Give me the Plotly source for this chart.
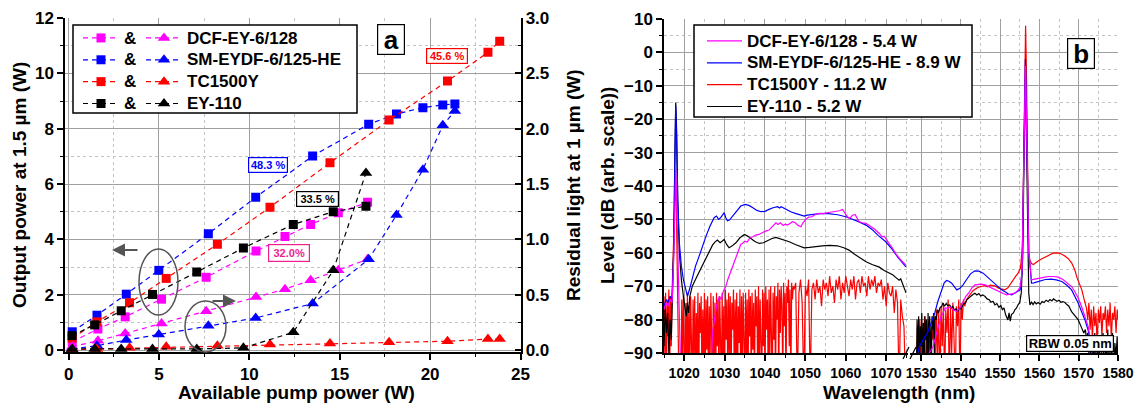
import plotly.graph_objects as go

W, H = 1141, 408
def X(px): return px / W
def Y(py): return 1 - py / H
FONT = "Arial, 'Liberation Sans', sans-serif"
MAG, BLU, RED, BLK = "#FF00FF", "#0000FF", "#FF0000", "#000000"

# ---------------- panel a data ----------------
fibers = ["DCF-EY-6/128", "SM-EYDF-6/125-HE", "TC1500Y", "EY-110"]

pump_dcf = [0.2, 1.62, 3.13, 5.14, 7.61, 10.37, 11.97, 13.39, 14.92, 16.54]
out_dcf = [0.3, 0.76, 1.2, 1.84, 2.63, 3.58, 4.1, 4.54, 4.96, 5.34]
res_dcf = [0.03, 0.084, 0.15, 0.24, 0.35, 0.48, 0.55, 0.63, 0.72, 0.82]

pump_sm = [0.2, 1.57, 3.19, 4.99, 7.73, 10.35, 13.5, 16.6, 18.14, 19.6, 20.7, 21.37]
out_sm = [0.66, 1.26, 2.02, 2.88, 4.2, 5.52, 7.01, 8.16, 8.53, 8.76, 8.86, 8.89]
res_sm = [0.01, 0.04, 0.09, 0.14, 0.22, 0.29, 0.42, 0.82, 1.22, 1.63, 2.03, 2.16]

pump_tc = [0.2, 1.57, 3.37, 5.4, 8.23, 11.14, 14.46, 17.73, 20.96, 23.2, 23.85]
out_tc = [0.43, 1.02, 1.71, 2.59, 3.82, 5.16, 6.77, 8.31, 9.72, 10.76, 11.16]
res_tc = [0.005, 0.01, 0.02, 0.03, 0.04, 0.05, 0.06, 0.07, 0.08, 0.1, 0.1]

pump_ey = [0.19, 1.44, 2.91, 4.64, 7.09, 9.67, 12.43, 14.64, 16.45]
out_ey = [0.52, 0.91, 1.42, 2.01, 2.82, 3.69, 4.54, 5.0, 5.2]
res_ey = [0.01, 0.01, 0.01, 0.01, 0.01, 0.02, 0.16, 0.72, 1.6]

eff_labels = ["48.3 %", "45.6 %", "33.5 %", "32.0%"]

# ---------------- panel b data ----------------
spec_names = ["DCF-EY-6/128 - 5.4 W", "SM-EYDF-6/125-HE - 8.9 W", "TC1500Y - 11.2 W", "EY-110 - 5.2 W"]

# segment 1 (1015-1075 nm)
b1_wl = [1015.0, 1015.5, 1016.0, 1016.5, 1017.0, 1017.4, 1017.7, 1017.9, 1018.1, 1018.4, 1018.8, 1019.3, 1019.8, 1020.3, 1020.8, 1021.3, 1022.0, 1022.8, 1023.7, 1024.5, 1025.4, 1026.4, 1027.4, 1028.0, 1028.5, 1029.0, 1029.5, 1029.9, 1030.3, 1030.7, 1031.2, 1032.0, 1033.0, 1034.0, 1035.1, 1036.0, 1037.0, 1038.0, 1039.0, 1040.0, 1041.0, 1042.0, 1043.1, 1043.6, 1044.0, 1044.75, 1045.5, 1046.5, 1047.5, 1048.5, 1049.7, 1050.5, 1051.5, 1052.5, 1053.5, 1055.1, 1056.5, 1058.0, 1060.0, 1061.5, 1063.0, 1065.0, 1066.5, 1068.0, 1069.9, 1071.5, 1073.0, 1074.9]
b1_db = [-76, -74, -75, -73, -74, -60, -32, -16, -24, -44, -57, -64, -68, -71, -73, -71, -67.5, -64, -61, -58, -55, -52, -49.5, -49, -50, -49.5, -48.5, -48, -49.5, -50.4, -50.2, -49, -47.5, -46, -45.5, -45.8, -46.5, -47.3, -47.7, -47.6, -47, -46.5, -46.2, -46.6, -46.2, -46.7, -47.2, -47.8, -48.2, -48.6, -49, -48.7, -48.5, -48.4, -48.3, -48.2, -48.3, -48.6, -49.2, -49.8, -50.6, -51.7, -53, -54.8, -56.7, -59, -61.5, -64.2]

m1_wl = [1015.0, 1015.5, 1016.0, 1016.5, 1017.0, 1017.4, 1017.7, 1017.9, 1018.1, 1018.4, 1018.7, 1019.0, 1019.2, 1026.5, 1027.0, 1027.5, 1028.0, 1028.7, 1029.2, 1029.7, 1030.3, 1030.8, 1031.4, 1032.0, 1032.4, 1033.0, 1033.6, 1034.0, 1034.4, 1035.0, 1035.6, 1036.3, 1037.0, 1037.7, 1038.5, 1039.3, 1040.0, 1041.0, 1041.6, 1042.2, 1042.7, 1043.2, 1043.8, 1044.5, 1045.0, 1045.6, 1046.2, 1046.8, 1047.5, 1048.2, 1048.9, 1049.4, 1050.1, 1050.8, 1051.6, 1052.4, 1053.4, 1054.4, 1055.4, 1056.4, 1057.4, 1058.4, 1059.2, 1059.8, 1060.4, 1061.0, 1061.6, 1062.3, 1062.8, 1063.3, 1064.0, 1065.0, 1066.0, 1067.0, 1068.3, 1069.0, 1069.5, 1070.0, 1070.7, 1071.5, 1072.5, 1073.5, 1074.9]
m1_db = [-77, -75, -76, -74, -75, -62, -45, -35, -42, -60, -75, -88, -100, -100, -84, -80, -76, -73, -74, -71.5, -70, -68, -66, -64, -63, -61, -59, -57.5, -57.2, -56.5, -56.8, -55.5, -55.2, -54.7, -54.5, -54, -53.6, -53.2, -52.5, -51.6, -51, -51.5, -51, -51.8, -51.4, -51.7, -51.1, -50.7, -51, -51.8, -52.2, -51, -50, -49.3, -49.2, -48.6, -48.2, -48.3, -48.0, -47.8, -47.6, -47.4, -47, -48, -49.2, -49.7, -48.8, -48.5, -49.5, -50.7, -51, -51.2, -52, -52.8, -54.2, -55.2, -55, -56, -57.2, -58.5, -60.5, -62, -63.7]

k1_wl = [1015.0, 1015.3, 1015.6, 1015.9, 1016.2, 1016.5, 1016.8, 1017.1, 1017.4, 1017.7, 1017.9, 1018.1, 1018.4, 1018.8, 1019.3, 1019.8, 1020.2, 1020.5, 1020.8, 1021.1, 1021.4, 1022.0, 1023.0, 1024.0, 1024.5, 1025.5, 1026.3, 1027.0, 1027.6, 1028.2, 1028.9, 1029.4, 1029.9, 1030.5, 1031.1, 1031.8, 1032.8, 1033.8, 1034.9, 1035.7, 1036.5, 1037.5, 1038.6, 1039.6, 1040.6, 1041.6, 1042.7, 1043.5, 1044.5, 1046.0, 1047.5, 1049.0, 1049.7, 1051.0, 1052.5, 1054.2, 1056.0, 1057.9, 1059.5, 1060.8, 1062.0, 1063.5, 1065.0, 1066.5, 1068.3, 1069.5, 1070.5, 1071.6, 1072.5, 1073.2, 1073.6, 1074.0, 1074.4, 1074.7, 1074.9]
k1_db = [-88, -76, -84, -78, -90, -80, -86, -75, -58, -30, -15, -22, -45, -60, -68, -73, -76, -79, -75, -78, -73, -70, -67.5, -65, -64, -61.5, -59.5, -57.7, -56.8, -56.2, -57, -56.6, -56, -57.5, -58.5, -58, -57, -55.5, -54.5, -55, -55.7, -56.6, -57.2, -57, -56.4, -55.8, -55.4, -55.7, -56.1, -56.7, -57.5, -58.3, -58.5, -58.4, -58.1, -57.9, -57.8, -57.9, -58.5, -59.2, -60.3, -61.5, -62.7, -63.5, -64.3, -65.3, -66, -66.6, -67.5, -68.2, -67.8, -69.1, -70.2, -71, -72]

r1_wl = [1015.0, 1015.2, 1015.4, 1015.6, 1015.8, 1016.0, 1016.2, 1016.4, 1016.6, 1016.8, 1017.0, 1017.3, 1017.6, 1017.85, 1018.1, 1018.4, 1018.7,
         1019.2, 1019.4, 1019.6, 1019.8, 1020.0, 1020.2, 1020.4, 1020.6, 1020.8, 1021.0,
         1021.2, 1021.4, 1021.6, 1021.8, 1022.0, 1022.2, 1022.4, 1022.6, 1022.8, 1023.0,
         1023.2, 1023.4, 1023.6, 1023.8, 1024.0, 1024.2, 1024.4, 1024.6, 1024.8, 1025.0,
         1025.2, 1025.4, 1025.6, 1025.8, 1026.0, 1026.2, 1026.4, 1026.6, 1026.8, 1027.0,
         1027.2, 1027.4, 1027.6, 1027.8, 1028.0, 1028.2, 1028.4, 1028.6, 1028.8, 1029.0,
         1029.2, 1029.4, 1029.6, 1029.8, 1030.0, 1030.2, 1030.4, 1030.6, 1030.8, 1031.0,
         1031.2, 1031.4, 1031.6, 1031.8, 1032.0, 1032.2, 1032.4, 1032.6, 1032.8, 1033.0,
         1033.2, 1033.4, 1033.6, 1033.8, 1034.0, 1034.2, 1034.4, 1034.6, 1034.8, 1035.0,
         1035.2, 1035.4, 1035.6, 1035.8, 1036.0, 1036.2, 1036.4, 1036.6, 1036.8, 1037.0,
         1037.2, 1037.4, 1037.6, 1037.8, 1038.0, 1038.2, 1038.4, 1038.6, 1038.8, 1039.0,
         1039.2, 1039.4, 1039.6, 1039.8, 1040.0, 1040.2, 1040.4, 1040.6, 1040.8, 1041.0,
         1041.2, 1041.4, 1041.6, 1041.8, 1042.0, 1042.2, 1042.4, 1042.6, 1042.8, 1043.0,
         1043.2, 1043.4, 1043.6, 1043.8, 1044.0, 1044.2, 1044.4, 1044.6, 1044.8, 1045.0,
         1045.2, 1045.4, 1045.6, 1045.8, 1046.0, 1046.2, 1046.4, 1046.6, 1046.8, 1047.0,
         1047.2, 1047.6, 1048.0, 1048.4, 1048.8, 1049.2, 1049.6, 1050.0, 1050.4, 1050.8,
         1051.2, 1051.6, 1052.0, 1052.4, 1052.8, 1053.2, 1053.6, 1054.0, 1054.4, 1054.8,
         1055.2, 1055.6, 1056.0, 1056.4, 1056.8, 1057.2, 1057.6, 1058.0, 1058.4, 1058.8,
         1059.2, 1059.6, 1060.0, 1060.4, 1060.8, 1061.2, 1061.6, 1062.0, 1062.4, 1062.8,
         1063.2, 1063.6, 1064.0, 1064.4, 1064.8, 1065.2, 1065.6, 1066.0, 1066.4, 1066.8,
         1067.2, 1067.6, 1068.0, 1068.4, 1068.8, 1069.2, 1069.6, 1070.0, 1070.4, 1070.8,
         1071.2, 1071.6, 1072.0, 1072.4, 1072.8, 1073.2, 1073.6, 1074.0, 1074.4, 1074.8]
r1_db = [-73, -90, -72, -100, -74, -85, -71, -100, -73, -88, -72, -60, -45, -37, -50, -75, -100,
         -100, -74, -95, -73, -88, -100, -75, -92, -72, -100,
         -76, -98, -73, -86, -100, -74, -90, -73, -100, -78,
         -92, -72, -100, -75, -84, -73, -100, -77, -96, -72,
         -100, -74, -89, -73, -100, -76, -93, -72, -85, -100,
         -73, -97, -75, -100, -72, -88, -74, -100, -73, -82,
         -100, -72, -94, -76, -100, -71, -86, -74, -100, -72,
         -90, -73, -100, -75, -83, -71, -100, -74, -92, -72,
         -100, -76, -87, -71, -100, -73, -95, -72, -81, -100,
         -72, -91, -74, -100, -71, -85, -73, -100, -72, -89,
         -75, -100, -71, -82, -73, -100, -70, -94, -74, -86,
         -100, -71, -88, -72, -100, -70, -83, -74, -100, -71,
         -92, -70, -78, -100, -72, -86, -70, -100, -73, -80,
         -69, -100, -71, -84, -70, -76, -100, -69, -82, -72,
         -100, -70, -75, -68, -88, -71, -100, -69, -74, -70,
         -71, -69, -100, -72, -68, -75, -100, -70, -73, -68,
         -100, -71, -69, -74, -68, -72, -70, -76, -68, -71,
         -69, -73, -67, -72, -70, -75, -68, -71, -67, -74,
         -69, -72, -67, -70, -73, -68, -71, -67, -74, -69,
         -68, -72, -67, -70, -69, -73, -67, -71, -68, -70,
         -67, -72, -69, -70, -68, -74, -70, -76, -69, -72,
         -73, -70, -78, -71, -75, -100, -74, -79, -82, -100]

# segment 2 (1527-1580 nm)
b2_wl = [1528.7, 1529.5, 1530.5, 1531.5, 1532.5, 1533.4, 1534.2, 1535.1, 1535.8, 1536.4, 1537.0, 1537.7, 1538.4, 1539.0, 1539.8, 1540.6, 1541.5, 1542.5, 1543.6, 1544.6, 1545.7, 1546.8, 1547.9, 1549.0, 1550.4, 1551.5, 1552.2, 1553.0, 1553.8, 1554.5, 1555.1, 1555.6, 1555.9, 1556.2, 1556.45, 1556.7, 1557.0, 1557.3, 1557.6, 1558.0, 1558.6, 1559.2, 1559.7, 1560.5, 1561.5, 1563.0, 1564.3, 1565.7, 1567.0, 1568.2, 1569.0, 1569.9, 1570.7, 1571.6, 1572.4, 1573.0, 1573.4]
b2_db = [-92, -88, -86, -84, -81, -78, -74.5, -71.1, -69, -68.3, -68.5, -69.1, -70.3, -71.1, -70.6, -69.6, -68, -66.3, -65.4, -65.5, -66.1, -67.3, -68.6, -69.8, -71.1, -71.8, -72.4, -72.6, -72, -71.6, -71.1, -66, -45, -15, -2, -15, -45, -60, -63.7, -69.1, -69, -68.8, -68.6, -68.3, -68, -67.9, -68.1, -68.6, -69.7, -71.1, -73, -75.1, -77.5, -80.1, -83.1, -87, -92]

m2_wl = [1528.7, 1531.0, 1533.0, 1534.2, 1535.0, 1535.5, 1536.0, 1536.6, 1537.3, 1538.0, 1539.0, 1539.8, 1540.6, 1541.3, 1542.0, 1542.8, 1543.6, 1544.4, 1545.3, 1546.2, 1547.2, 1548.1, 1549.1, 1550.0, 1550.8, 1551.7, 1552.4, 1553.1, 1553.8, 1554.6, 1555.2, 1555.6, 1555.9, 1556.2, 1556.45, 1556.7, 1557.0, 1557.3, 1557.6, 1558.0, 1558.8, 1559.6, 1560.5, 1561.4, 1562.3, 1563.5, 1564.8, 1566.0, 1567.2, 1568.2, 1569.0, 1569.9, 1570.8, 1571.6, 1572.4, 1573.0, 1573.5]
m2_db = [-95, -92, -88, -83, -79, -78.1, -76.5, -76.6, -76.2, -77, -77.6, -76.5, -74.5, -73, -72.1, -70.6, -69.6, -69.4, -69.4, -69.6, -70.2, -70.6, -71.1, -71.8, -72.2, -72.6, -72.4, -72.3, -72.1, -71.2, -70, -65, -45, -18, -4, -18, -45, -60, -63, -68.1, -67.9, -67.8, -67.5, -67.3, -67.1, -67.1, -67.3, -68, -69, -70.1, -71.6, -73.6, -76.3, -79.1, -82, -86, -92]

k2_wl = [1528.7, 1528.9, 1529.1, 1529.3, 1529.5, 1529.7, 1529.9, 1530.1, 1530.3, 1530.5, 1530.7, 1530.9, 1531.1, 1531.3, 1531.5, 1531.7, 1531.9, 1532.1, 1532.3, 1532.5, 1532.7, 1532.9, 1533.1, 1533.3, 1533.5, 1533.8, 1534.1, 1534.4,
         1534.7, 1535.1, 1535.5, 1535.9, 1536.3, 1536.7, 1537.2, 1537.6, 1538.0, 1538.4, 1538.8, 1539.3, 1539.7, 1540.1, 1540.6, 1541.1, 1541.6, 1542.1, 1542.6, 1543.1, 1543.6, 1544.1, 1544.6, 1545.1, 1545.6, 1546.2, 1546.7, 1547.2, 1547.7, 1548.2, 1548.7, 1549.2, 1549.7, 1550.2, 1550.6, 1551.0, 1551.4, 1551.7, 1552.0, 1552.3, 1552.6, 1552.9, 1553.4, 1553.8, 1554.2, 1554.6, 1555.0, 1555.4, 1555.8, 1556.1, 1556.45, 1556.7, 1557.0, 1557.3, 1557.6, 1558.0, 1558.4, 1558.8, 1559.2, 1559.7, 1560.2, 1560.7, 1561.2, 1561.7, 1562.2, 1562.7, 1563.2, 1563.6, 1564.0, 1564.5, 1565.0, 1565.5, 1566.0, 1566.5, 1567.0, 1567.5, 1568.2, 1568.8, 1569.4, 1569.9, 1570.4, 1570.9, 1571.3, 1571.7, 1572.0, 1572.3, 1572.6, 1572.9, 1573.2, 1573.5, 1573.8, 1574.1, 1574.4, 1574.7, 1575.0, 1575.3, 1575.6, 1575.9, 1576.2, 1576.5, 1576.8, 1577.1, 1577.4, 1577.7, 1578.0, 1578.3, 1578.6, 1578.9, 1579.2, 1579.5, 1579.8, 1580.0]
k2_db = [-100, -80, -92, -79, -100, -82, -88, -78, -95, -81, -100, -79, -86, -80, -100, -78, -90, -79, -84, -100, -79, -83, -78, -90, -79, -80, -77, -78,
         -76.5, -76.1, -75, -76, -75.2, -75.8, -75.6, -76.5, -76, -77.2, -76.8, -77.6, -76.5, -76.8, -75.5, -75.1, -74, -73.5, -72.8, -72.5, -72.1, -72.6, -72.2, -72.9, -72.6, -73.1, -73.8, -74, -74.8, -74.5, -75.6, -75.2, -76.3, -75.8, -77, -76.5, -78.5, -79.5, -80.1, -78, -80.5, -78.5, -78, -77, -76.5, -75.5, -75, -72, -60, -30, -8, -25, -55, -72, -75.6, -74.8, -75.5, -74.7, -75.3, -74.9, -75.4, -74.6, -74.9, -74.2, -74.6, -74, -74.4, -73.8, -74.1, -74.5, -74.2, -74.8, -74.6, -74.9, -75.5, -76, -77.6, -78.5, -79.3, -80.1, -81.5, -82.8, -84, -83, -86, -84, -90, -85, -100, -86, -92, -84, -100, -87, -95, -85, -100, -88, -84, -100, -86, -92, -83, -100, -86, -90, -84, -100, -87, -91, -85, -100]

r2_wl = [1528.7, 1529.0, 1529.3, 1529.6, 1529.9, 1530.2, 1530.5, 1530.8, 1531.1, 1531.4, 1531.7, 1532.0, 1532.3, 1532.6, 1532.9, 1533.2, 1533.5, 1533.8, 1534.1, 1534.4, 1534.7, 1535.0, 1535.3, 1535.6, 1535.9, 1536.2, 1536.5, 1536.8, 1537.1, 1537.4, 1537.7, 1538.0, 1538.3, 1538.6, 1538.9, 1539.2, 1539.5, 1539.8, 1540.1, 1540.4, 1540.7, 1541.0,
         1541.5, 1542.3, 1543.0, 1543.8, 1544.5, 1545.3, 1546.0, 1546.8, 1547.5, 1548.7, 1549.5, 1550.3, 1551.2, 1552.0, 1552.7, 1553.4, 1554.0, 1554.6, 1555.2, 1555.7, 1556.0, 1556.3, 1556.5, 1556.7, 1557.0, 1557.3, 1557.6, 1558.0, 1558.5, 1559.0, 1559.6, 1560.3, 1561.4, 1562.5, 1563.5, 1564.4, 1565.3, 1566.3, 1567.3, 1568.2, 1569.0, 1569.6, 1570.2, 1570.8, 1571.4, 1572.0,
         1572.3, 1572.6, 1572.9, 1573.2, 1573.5, 1573.8, 1574.1, 1574.4, 1574.7, 1575.0, 1575.3, 1575.6, 1575.9, 1576.2, 1576.5, 1576.8, 1577.1, 1577.4, 1577.7, 1578.0, 1578.3, 1578.6, 1578.9, 1579.2, 1579.5, 1579.8, 1580.0]
r2_db = [-100, -82, -95, -80, -100, -84, -88, -79, -100, -83, -90, -80, -100, -82, -86, -79, -100, -77, -92, -78, -100, -76, -88, -75, -100, -77, -84, -74, -100, -76, -90, -75, -86, -100, -76, -82, -74, -100, -75, -80, -74, -76,
         -74, -72.6, -71.5, -70.8, -70.3, -70.1, -69.8, -70.2, -69.7, -69.9, -70.5, -70.8, -71.1, -70.5, -69.2, -68.1, -67, -66.1, -64.5, -58, -35, -5, 8, -5, -40, -60, -62.2, -63.2, -63.5, -63, -62.5, -62, -61.3, -60.6, -60.1, -60, -60.2, -60.8, -61.7, -63, -65.1, -67.5, -69.5, -71.1, -74, -76.6,
         -80, -75, -83, -77, -86, -76, -82, -78, -88, -77, -81, -76, -85, -78, -80, -76, -84, -77, -82, -75, -86, -78, -80, -76, -84, -77, -80]

fig = go.Figure()

# ---- panel a traces ----
series_a = [(fibers[0], MAG, pump_dcf, out_dcf, res_dcf),
            (fibers[1], BLU, pump_sm, out_sm, res_sm),
            (fibers[2], RED, pump_tc, out_tc, res_tc),
            (fibers[3], BLK, pump_ey, out_ey, res_ey)]
BIG = '<span style="font-size:17px">%s</span>'
for name, col, xs, ys, yr in series_a:
    fig.add_trace(go.Scatter(x=xs, y=ys, mode="lines+markers", name=BIG % "&amp;", legend="legend",
                             line=dict(color=col, width=1.2, dash="5px,4px"),
                             marker=dict(symbol="square", size=9, color=col),
                             xaxis="x", yaxis="y"))
for name, col, xs, ys, yr in series_a:
    fig.add_trace(go.Scatter(x=xs, y=yr, mode="lines+markers", name=BIG % name, legend="legend2",
                             line=dict(color=col, width=1.2, dash="5px,4px"),
                             marker=dict(symbol="triangle-up", size=11, color=col),
                             xaxis="x", yaxis="y2"))

# ---- panel b traces ----
series_b = [(spec_names[2], RED, r1_wl, r1_db, r2_wl, r2_db, 3),
            (spec_names[3], BLK, k1_wl, k1_db, k2_wl, k2_db, 4),
            (spec_names[1], BLU, b1_wl, b1_db, b2_wl, b2_db, 2),
            (spec_names[0], MAG, m1_wl, m1_db, m2_wl, m2_db, 1)]
for name, col, w1, d1, w2, d2, rank in series_b:
    fig.add_trace(go.Scatter(x=w1, y=d1, mode="lines", name=BIG % name, legend="legend3", legendrank=rank,
                             line=dict(color=col, width=1.2), xaxis="x2", yaxis="y3"))
    fig.add_trace(go.Scatter(x=w2, y=d2, mode="lines", name=name, showlegend=False,
                             line=dict(color=col, width=1.2), xaxis="x3", yaxis="y3"))

def axstyle(minor_dtick, size=17, ticks="outside", grid=True, **kw):
    d = dict(showline=True, linecolor="black", linewidth=1.5, ticks=ticks, ticklen=6, tickwidth=1.5,
             tickcolor="black", showgrid=grid, gridcolor="#A0A0A0", gridwidth=1, zeroline=False,
             automargin=False,
             tickfont=dict(family=FONT, size=size, color="black", weight="bold"),
             minor=dict(dtick=minor_dtick, ticks=ticks, ticklen=3, tickwidth=1.2, tickcolor="black",
                        showgrid=grid, gridcolor="#C4C4C4", griddash="dot", gridwidth=1))
    d.update(kw)
    return d

lfont = dict(family=FONT, size=14.5, color="black", weight="bold")
leg = dict(xanchor="left", yanchor="top", bgcolor="rgba(0,0,0,0)", borderwidth=0,
           font=lfont, tracegroupgap=0, traceorder="normal", itemwidth=36)
fig.update_layout(
    width=W, height=H, margin=dict(l=0, r=0, t=0, b=0, pad=0), showlegend=True,
    paper_bgcolor="white", plot_bgcolor="white", font=dict(family=FONT, color="black"),
    xaxis=axstyle(2.5, domain=[X(65), X(520.5)], range=[-0.2, 25], dtick=5, tick0=0, anchor="y"),
    yaxis=axstyle(1, domain=[Y(352), Y(18)], range=[-0.07, 12], dtick=2, tick0=0, anchor="x"),
    yaxis2=axstyle(0.25, ticks="inside", grid=False, overlaying="y", side="right", anchor="x",
                   range=[-0.0175, 3.0], dtick=0.5, tick0=0, tickformat=".1f"),
    xaxis2=axstyle(5, size=14, domain=[X(664), X(908)], range=[1015, 1075.4], dtick=10, tick0=1020, anchor="y3"),
    xaxis3=axstyle(5, size=14, domain=[X(910), X(1118)], range=[1527.1, 1580], dtick=10, tick0=1530, anchor="y3"),
    yaxis3=axstyle(5, domain=[Y(353), Y(19)], range=[-90, 10], dtick=10, tick0=0, anchor="x2"),
    legend=dict(leg, x=X(78), y=Y(22)),
    legend2=dict(leg, x=X(141), y=Y(22)),
    legend3=dict(leg, x=X(702), y=Y(25), itemwidth=35),
)

shapes = [
    dict(type="rect", xref="paper", yref="paper", x0=X(73), x1=X(357), y0=Y(113), y1=Y(25),
         line=dict(color="black", width=1.5), fillcolor="white", layer="above"),
    dict(type="rect", xref="paper", yref="paper", x0=X(694), x1=X(972), y0=Y(117), y1=Y(25),
         line=dict(color="black", width=1.5), fillcolor="white", layer="above"),
    dict(type="circle", xref="paper", yref="paper", x0=X(139), x1=X(178), y0=Y(315), y1=Y(249),
         line=dict(color="#555555", width=1.5)),
    dict(type="circle", xref="paper", yref="paper", x0=X(185), x1=X(226), y0=Y(352), y1=Y(301),
         line=dict(color="#555555", width=1.5)),
    dict(type="line", xref="paper", yref="paper", x0=X(903), x1=X(909), y0=Y(359), y1=Y(347),
         line=dict(color="black", width=1.2)),
    dict(type="line", xref="paper", yref="paper", x0=X(910), x1=X(916), y0=Y(359), y1=Y(347),
         line=dict(color="black", width=1.2)),
]
fig.update_layout(shapes=shapes)

def title(text, x, y, angle=0, size=19):
    return dict(text=text, x=X(x), y=Y(y), xref="paper", yref="paper", showarrow=False,
                textangle=angle, xanchor="center", yanchor="middle",
                font=dict(family=FONT, size=size, color="black", weight="bold"))

def boxed(text, x, y, col, size=11, w=None, h=None):
    d = dict(text=text, x=X(x), y=Y(y), xref="paper", yref="paper", showarrow=False,
             xanchor="center", yanchor="middle", bgcolor="white", bordercolor=col, borderwidth=1.2,
             borderpad=1, font=dict(family=FONT, size=size, color=col, weight="bold"))
    if w: d["width"] = w
    if h: d["height"] = h
    return d

annotations = [
    title("Output power at 1.5 \u00b5m (W)", 20, 185, -90),
    title("Residual light at 1 \u00b5m (W)", 574, 185, -90),
    title("Available pump power (W)", 296, 392),
    title("Level (dB (arb. scale))", 608, 186, -90),
    title("Wavelength (nm)", 899, 392),
    boxed(eff_labels[0], 268, 165, BLU, w=36, h=12),
    boxed(eff_labels[1], 446.7, 56, RED, w=38, h=12),
    boxed(eff_labels[2], 317.5, 199, BLK, w=39, h=12),
    boxed(eff_labels[3], 289, 253, "#EE1E8C", w=38, h=14),
    boxed("a", 391, 39.5, BLK, size=26, w=24, h=27),
    boxed("b", 1080.5, 53.5, BLK, size=26, w=24, h=27),
    boxed("RBW 0.05 nm", 1069.5, 343.5, BLK, size=13, w=84, h=13),
    dict(x=X(112), y=Y(250), xref="paper", yref="paper", ax=27, ay=0, axref="pixel", ayref="pixel",
         showarrow=True, arrowhead=2, arrowsize=1.3, arrowwidth=2, arrowcolor="#555555", text=""),
    dict(x=X(236), y=Y(301), xref="paper", yref="paper", ax=-25, ay=0, axref="pixel", ayref="pixel",
         showarrow=True, arrowhead=2, arrowsize=1.3, arrowwidth=2, arrowcolor="#555555", text=""),
]
fig.update_layout(annotations=annotations)

fig.write_html("out.html")
